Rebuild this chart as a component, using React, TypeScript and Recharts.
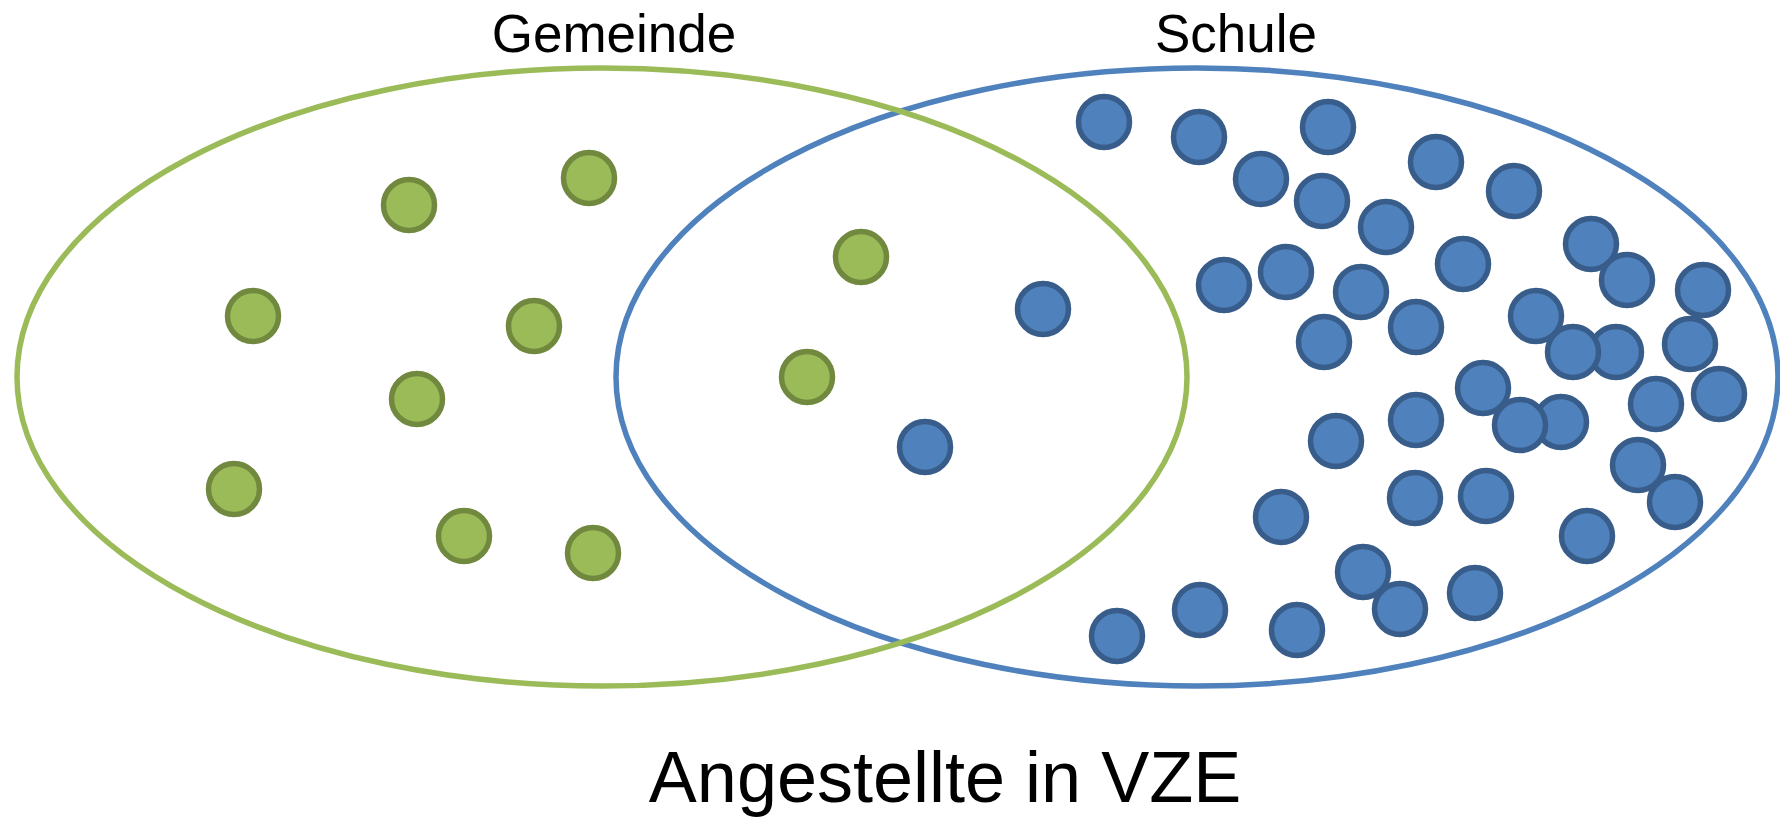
import { ScatterChart, Scatter, XAxis, YAxis } from "recharts";

// diagram space = reference pixels (1780 x 819)
const W = 1780;
const H = 819;

const setNames = ["Gemeinde", "Schule"];
const setCenterX = [602, 1197];
const setCenterY = [377, 377];
const setRadiusX = [585, 581];
const setRadiusY = [309, 309];
const labelX = [614, 1236];
const labelY = [52, 52];

const titleText = "Angestellte in VZE";
const titlePos = { x: 945, y: 802 };

const gemeindeX = [409, 589, 253, 534, 417, 234, 464, 593, 861, 807];
const gemeindeY = [205, 178, 316, 326, 399, 489, 536, 553, 257, 377];

const schuleX = [
  1104, 1199, 1328, 1261, 1436, 1514, 1322, 1386, 1591, 1627, 1703, 1224, 1286, 1361,
  1463, 1536, 1616, 1573, 1690, 1324, 1416, 1043, 1483, 1561, 1520, 1656, 1719, 1336,
  1416, 1638, 1675, 1281, 1415, 1486, 1587, 1363, 1400, 1475, 1200, 1297, 1117, 925,
];
const schuleY = [
  122, 137, 127, 179, 162, 191, 201, 227, 244, 280, 290, 285, 272, 292,
  264, 316, 352, 352, 344, 342, 327, 309, 388, 422, 425, 404, 394, 441,
  420, 465, 502, 517, 498, 496, 536, 572, 609, 593, 610, 630, 636, 447,
];

const GREEN = "#9BBB59";
const GREEN_DARK = "#71893F";
const BLUE = "#4F81BD";
const BLUE_DARK = "#385D8A";
const FONT = "'Liberation Sans', Arial, sans-serif";

const toPoints = (xs: number[], ys: number[]) => xs.map((x, i) => ({ x, y: ys[i] }));

const setData = setNames.map((name, i) => ({
  name,
  x: setCenterX[i],
  y: setCenterY[i],
  rx: setRadiusX[i],
  ry: setRadiusY[i],
  lx: labelX[i],
  ly: labelY[i],
}));

const labelData = setData.map((s) => ({ x: s.lx, y: s.ly, text: s.name, size: 53 }));
labelData.push({ x: titlePos.x, y: titlePos.y, text: titleText, size: 72 });

// plot area is W x H with zero margins, so one data unit is one pixel
const ellipseShape = (color: string) => (props: any) => {
  const { cx, cy, payload } = props;
  return (
    <ellipse
      cx={cx}
      cy={cy}
      rx={payload.rx}
      ry={payload.ry}
      fill="none"
      stroke={color}
      strokeWidth={5.5}
    />
  );
};

const dotShape = (fill: string, stroke: string) => (props: any) => (
  <circle cx={props.cx} cy={props.cy} r={25.5} fill={fill} stroke={stroke} strokeWidth={5.5} />
);

const textShape = (props: any) => (
  <text
    x={props.cx}
    y={props.cy}
    textAnchor="middle"
    fontFamily={FONT}
    fontSize={props.payload.size}
    fill="#000"
  >
    {props.payload.text}
  </text>
);

export default function App() {
  return (
    <div style={{ position: "absolute", left: 0, top: 0, background: "#fff" }}>
      <ScatterChart width={W} height={H} margin={{ top: 0, right: 0, bottom: 0, left: 0 }}>
        <XAxis type="number" dataKey="x" domain={[0, W]} hide />
        <YAxis type="number" dataKey="y" domain={[0, H]} reversed hide />
        <Scatter data={[setData[1]]} shape={ellipseShape(BLUE)} isAnimationActive={false} />
        <Scatter data={[setData[0]]} shape={ellipseShape(GREEN)} isAnimationActive={false} />
        <Scatter
          data={toPoints(gemeindeX, gemeindeY)}
          shape={dotShape(GREEN, GREEN_DARK)}
          isAnimationActive={false}
        />
        <Scatter
          data={toPoints(schuleX, schuleY)}
          shape={dotShape(BLUE, BLUE_DARK)}
          isAnimationActive={false}
        />
        <Scatter data={labelData} shape={textShape} isAnimationActive={false} />
      </ScatterChart>
    </div>
  );
}
